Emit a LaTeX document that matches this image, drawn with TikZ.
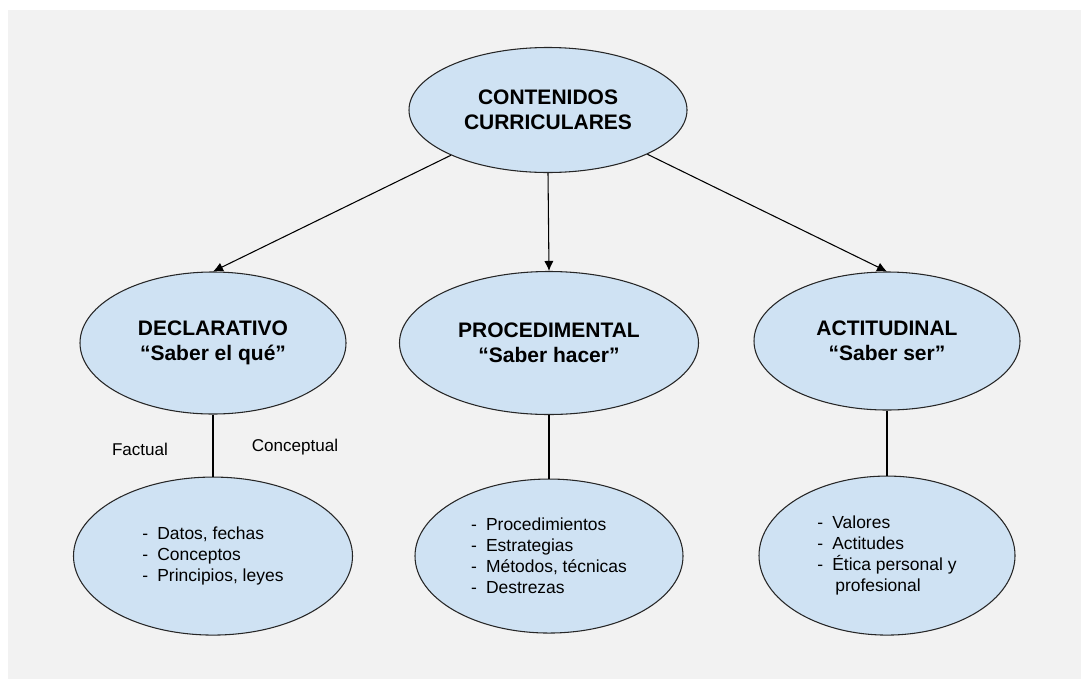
\documentclass[tikz,border=0pt]{standalone}
\usepackage{fontspec}
\setmainfont{Liberation Sans}
\usetikzlibrary{arrows.meta,shapes,positioning}
\definecolor{nodeblue}{RGB}{207,226,243}
\definecolor{paper}{RGB}{242,242,242}

\begin{document}
\begin{tikzpicture}[x=0.75pt,y=-0.75pt,line width=0.8pt,>={Latex[length=7.5pt,width=7pt]}]
  \tikzstyle{topic}=[ellipse,draw=black!85,fill=nodeblue,inner sep=0pt]
  \tikzstyle{kind}=[topic,align=center,font=\fontsize{15.75}{18.75}\selectfont\bfseries]
  \tikzstyle{items}=[topic,align=left,font=\fontsize{13.1}{15.75}\selectfont]
  \tikzstyle{tag}=[font=\fontsize{12.8}{15}\selectfont]

  \useasboundingbox (0,0) rectangle (1081,679);
  \fill [paper] (8,10) rectangle (1081,679);

  \begin{scope}
    % top and second row
    \node [kind,minimum width=208.5pt,minimum height=93.75pt] (cc) at (548,110)
      {CONTENIDOS\\CURRICULARES};
    \node [kind,minimum width=199.5pt,minimum height=106.5pt] (decl) at (213,343)
      {DECLARATIVO\\“Saber el qué”};
    \node [kind,minimum width=224.25pt,minimum height=107.25pt] (proc) at (549,343)
      {PROCEDIMENTAL\\“Saber hacer”};
    \node [kind,minimum width=199.5pt,minimum height=103.5pt] (act) at (887,341)
      {ACTITUDINAL\\“Saber ser”};
    % lists
    \node [items,minimum width=209.25pt,minimum height=118.5pt] (decllist) [below=46.5pt of decl]
      {-\hspace{6.8pt}Datos, fechas\\-\hspace{6.8pt}Conceptos\\-\hspace{6.8pt}Principios, leyes};
    \node [items,minimum width=201pt,minimum height=115.5pt] (proclist) [below=47.6pt of proc]
      {-\hspace{6.8pt}Procedimientos\\-\hspace{6.8pt}Estrategias\\-\hspace{6.8pt}Métodos, técnicas\\-\hspace{6.8pt}Destrezas};
    \node [items,minimum width=192pt,minimum height=119.25pt] (actlist) [below=48.75pt of act]
      {-\hspace{6.8pt}Valores\\-\hspace{6.8pt}Actitudes\\-\hspace{6.8pt}Ética personal y\\\hspace{13.4pt}profesional};
    \node [tag] (factual) at (140,449) {Factual};
    \node [tag] (concept) at (295,447) {Conceptual};
  \end{scope}

  \begin{scope}
    \path [->] (cc.205) edge (decl.north);
    \path [->] (cc.south) edge (proc.north);
    \path [->] (cc.336) edge (act.north);
    \path (decl.south) edge (decllist.north);
    \path (proc.south) edge (proclist.north);
    \path (act.south) edge (actlist.north);
  \end{scope}
\end{tikzpicture}
\end{document}
